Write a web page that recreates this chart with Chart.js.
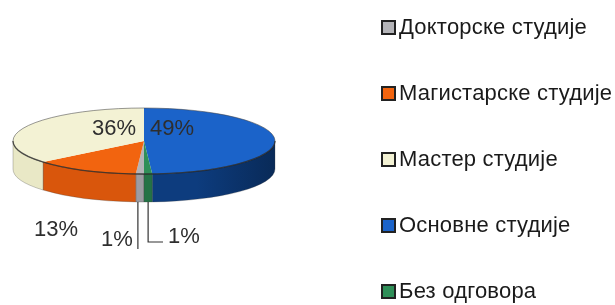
<!DOCTYPE html>
<html>
<head>
<meta charset="utf-8">
<script src="https://cdn.jsdelivr.net/npm/chart.js@4.4.1/dist/chart.umd.min.js"></script>
<style>
html,body{margin:0;padding:0;background:#fff}
#wrap{position:relative;width:615px;height:305px;overflow:hidden}
#c{position:absolute;left:0;top:0}
#legend{position:absolute;left:381px;top:16px;font-family:"Liberation Sans",Arial,sans-serif;font-size:22px;color:#1a1a1a;letter-spacing:0.2px}
#legend .row{height:22px;line-height:22px;margin-bottom:44px;white-space:nowrap;display:flex;align-items:center}
#legend .box{width:11px;height:11px;border:2px solid #222;margin-right:3px;flex:none}
</style>
</head>
<body>
<div id="wrap">
<canvas id="c" width="615" height="305"></canvas>
<div id="legend"></div>
</div>
<script>
// data
var categories = ['Докторске студије', 'Магистарске студије', 'Мастер студије', 'Основне студије', 'Без одговора']
var shares = [1, 13, 36, 49, 1]

// styling
var topColors = ['#b4b4b8', '#f2640f', '#f3f2d4', '#1b63c9', '#2f8f58']
var sideColors = ['#9c9ca2', '#d9560c', '#e9e8c6', '#0d3c7e', '#247246']
var depth = 28          // px height of the pie wall
var squash = 33 / 131   // ellipse ry / rx
// label placement relative to pie centre, [dx, dy], and whether a leader line is used
var labelPlace = [[-27, 99, 'left'], [-88, 89, null], [-30, -12, null], [28, -12, null], [40, 96, 'right']]

var pie3d = {
    id: 'pie3d',
    beforeDatasetsDraw: function (chart) {
        var ctx = chart.ctx
        var arcs = chart.getDatasetMeta(0).data
        var a0 = arcs[0]
        var cx = a0.x, cy = a0.y, rx = a0.outerRadius, ry = rx * squash
        ctx.save()
        // front walls
        arcs.forEach(function (arc, i) {
            var s = arc.startAngle, e = arc.endAngle
            ;[0, 2 * Math.PI].forEach(function (base) {
                var vs = Math.max(s, base), ve = Math.min(e, base + Math.PI)
                if (ve <= vs) return
                var g = ctx.createLinearGradient(cx - rx, 0, cx + rx, 0)
                g.addColorStop(0, sideColors[i])
                g.addColorStop(0.7, sideColors[i])
                g.addColorStop(1, shade(sideColors[i], 0.7))
                ctx.beginPath()
                ctx.ellipse(cx, cy, rx, ry, 0, vs, ve)
                ctx.lineTo(cx + rx * Math.cos(ve), cy + ry * Math.sin(ve) + depth)
                ctx.ellipse(cx, cy + depth, rx, ry, 0, ve, vs, true)
                ctx.closePath()
                ctx.fillStyle = g
                ctx.fill()
                ctx.strokeStyle = 'rgba(60,60,60,0.35)'
                ctx.lineWidth = 0.8
                ctx.stroke()
            })
        })
        // squash the round pie into the top face
        ctx.translate(0, cy * (1 - squash))
        ctx.scale(1, squash)
    },
    afterDatasetsDraw: function (chart) {
        var ctx = chart.ctx
        ctx.restore()
        var arcs = chart.getDatasetMeta(0).data
        var a0 = arcs[0]
        var cx = a0.x, cy = a0.y, rx = a0.outerRadius, ry = rx * squash
        ctx.save()
        // outline of top face
        ctx.beginPath()
        ctx.ellipse(cx, cy, rx, ry, 0, 0, 2 * Math.PI)
        ctx.strokeStyle = 'rgba(70,70,70,0.55)'
        ctx.lineWidth = 1
        ctx.stroke()
        // top/front edge
        ctx.beginPath()
        ctx.ellipse(cx, cy, rx, ry, 0, 0, Math.PI)
        ctx.strokeStyle = 'rgba(30,30,30,0.6)'
        ctx.lineWidth = 1.3
        ctx.stroke()
        // labels
        ctx.font = '22px "Liberation Sans", Arial, sans-serif'
        ctx.fillStyle = '#2e2e2e'
        ctx.textAlign = 'center'
        ctx.textBaseline = 'middle'
        arcs.forEach(function (arc, i) {
            var p = labelPlace[i]
            var lx = cx + p[0], ly = cy + p[1]
            ctx.fillText(shares[i] + '%', lx, ly)
            if (p[2]) {
                var mid = (arc.startAngle + arc.endAngle) / 2
                var sx = cx + rx * Math.cos(mid), sy = cy + ry * Math.sin(mid) + depth
                ctx.beginPath()
                ctx.strokeStyle = '#333'
                ctx.lineWidth = 1.2
                if (p[2] == 'left') {
                    ctx.moveTo(sx - 2, sy)
                    ctx.lineTo(sx - 2, ly + 9)
                } else {
                    ctx.moveTo(sx, sy)
                    ctx.lineTo(sx, ly + 5)
                    ctx.lineTo(lx - 21, ly + 5)
                }
                ctx.stroke()
            }
        })
        ctx.restore()
    }
}

function shade(hex, f) {
    var n = parseInt(hex.slice(1), 16)
    var r = Math.round((n >> 16) * f), g = Math.round(((n >> 8) & 255) * f), b = Math.round((n & 255) * f)
    return 'rgb(' + r + ',' + g + ',' + b + ')'
}

chart = new Chart(document.getElementById('c').getContext('2d'), {
    type: 'pie',
    data: {
        labels: categories,
        datasets: [{
            data: shares,
            backgroundColor: topColors,
            borderWidth: 0
        }]
    },
    options: {
        responsive: false,
        animation: false,
        rotation: 180,
        layout: { padding: { left: 13, right: 340, top: 10, bottom: 33 } },
        plugins: {
            legend: { display: false },
            tooltip: { enabled: false }
        }
    },
    plugins: [pie3d]
})

// html legend
var leg = document.getElementById('legend')
categories.forEach(function (name, i) {
    var row = document.createElement('div')
    row.className = 'row'
    var box = document.createElement('span')
    box.className = 'box'
    box.style.background = topColors[i]
    row.appendChild(box)
    row.appendChild(document.createTextNode(name))
    leg.appendChild(row)
})
</script>
</body>
</html>
